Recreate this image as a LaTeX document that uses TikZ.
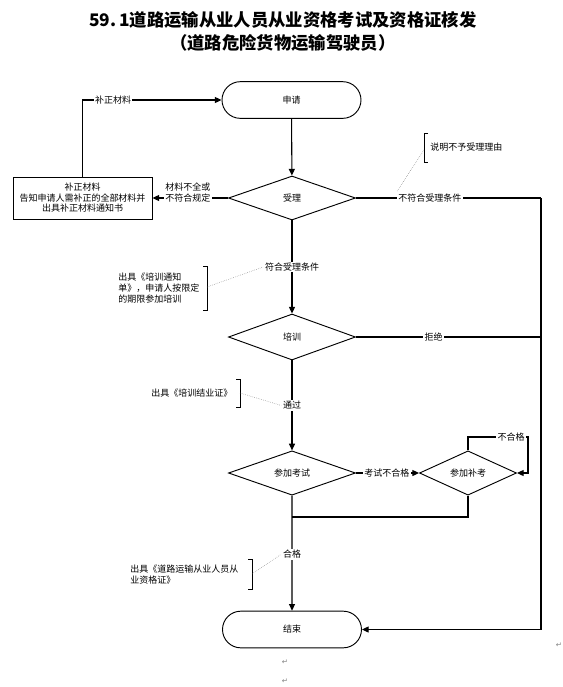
\documentclass[tikz,border=0pt]{standalone}
\usepackage{fontspec}
\setmainfont{Noto Sans CJK SC}
\newfontfamily\symfont{DejaVu Sans}
\usepackage{tikz}
\usetikzlibrary{shapes.geometric}
\usetikzlibrary{shapes.misc}
\usetikzlibrary{arrows.meta}
\tikzstyle{flow}=[draw, line width=0.7pt, inner sep=0pt, font=\fontsize{6.75}{7.9}\selectfont]
\tikzstyle{terminal}=[flow, rounded rectangle, minimum width=104.25pt, minimum height=27.5pt]
\tikzstyle{decision}=[flow, diamond, minimum width=95.25pt, minimum height=33pt]
\tikzstyle{process}=[flow, rectangle, minimum width=104.25pt, minimum height=31.5pt, align=center]
\tikzstyle{tag}=[fill=white, inner sep=1pt, font=\fontsize{6.75}{7.9}\selectfont, align=center]
\tikzstyle{remark}=[inner sep=0pt, anchor=west, align=left, font=\fontsize{6.75}{8.25}\selectfont]
\tikzstyle{link}=[line width=0.8pt, -{Triangle[length=5pt,width=4.5pt]}]
\tikzstyle{wire}=[line width=0.8pt]
\tikzstyle{brace}=[line width=0.6pt]
\tikzstyle{hint}=[densely dotted, gray, line width=0.4pt]
\tikzstyle{pilcrow}=[inner sep=0pt, gray, font=\symfont\fontsize{5.5}{6}\selectfont]

\begin{document}
\begin{tikzpicture}[x=0.75pt, y=-0.75pt]
    \useasboundingbox (0,0) rectangle (562,687);
    \node[font=\bfseries\fontsize{13}{17.25}\selectfont, align=center] (title) at (283,31.5)
        {59.\,1道路运输从业人员从业资格考试及资格证核发\\（道路危险货物运输驾驶员）};
    \node[terminal] (apply) at (291.5,100) {申请};
    \node[decision] (accept) at (292,198) {受理};
    \node[process] (amend) at (82.5,198) {补正材料\\告知申请人需补正的全部材料并\\出具补正材料通知书};
    \node[decision, minimum height=34.5pt] (train) at (292,337) {培训};
    \node[decision, minimum height=32.25pt] (exam) at (292,473) {参加考试};
    \node[decision, minimum width=72.75pt, minimum height=22.5pt] (retake) at (468,473) {参加补考};
    \node[terminal] (finish) at (292,629.5) {结束};
    \coordinate (rtop) at (541,198);
    \coordinate (loop) at (528,437);
    \coordinate (merge) at (292,517);

    \draw[link] (apply) -- (accept);
    \draw[link] (accept) -- node[tag, pos=0.53, yshift=4pt] (lblmissing) {材料不全或\\不符合规定} (amend);
    \draw[link] (amend.north) |- node[tag, pos=0.61] (lblfix) {补正材料} (apply.west);
    \draw[wire] (accept.east) -- node[tag, pos=0.4] (lblrefuse) {不符合受理条件} (rtop);
    \draw[link] (rtop) |- (finish.east);
    \draw[link] (accept) -- node[tag, pos=0.5] (lblok) {符合受理条件} (train);
    \draw[wire] (train.east) -- node[tag, pos=0.42] (lblreject) {拒绝} (train.east -| rtop);
    \draw[link] (train) -- node[tag, pos=0.5] (lblpass) {通过} (exam);
    \draw[link] (exam) -- node[tag, pos=0.49] (lblfail) {考试不合格} (retake);
    \draw[link] (retake.north) |- node[tag, pos=0.86] (lblagain) {不合格} (loop) |- (retake.east);
    \draw[wire] (retake.south) |- (merge);
    \draw[link] (exam) -- node[tag, pos=0.51] (lblqual) {合格} (finish);

    \node[remark] (whynot) at (430,147) {说明不予受理理由};
    \draw[brace] (428,133) -- (424,133) -- (424,162) -- (428,162);
    \draw[hint] (424,150) -- (lblrefuse.north west);
    \node[remark] (trainnote) at (118,288) {出具《培训通知\\单》，申请人按限定\\的期限参加培训};
    \draw[brace] (203,266) -- (207,266) -- (207,310) -- (203,310);
    \draw[hint] (207,287) -- (lblok.west);
    \node[remark] (certnote) at (151,393) {出具《培训结业证》};
    \draw[brace] (236,379) -- (240,379) -- (240,407) -- (236,407);
    \draw[hint] (240,393) -- (lblpass.west);
    \node[remark] (licnote) at (130,574.5) {出具《道路运输从业人员从\\业资格证》};
    \draw[brace] (248,559) -- (252,559) -- (252,589) -- (248,589);
    \draw[hint] (252,574) -- (lblqual.west);

    \node[pilcrow] (pm1) at (285,662) {↵};
    \node[pilcrow] (pm2) at (285,681) {↵};
    \node[pilcrow] (pm3) at (559,645) {↵};
\end{tikzpicture}
\end{document}
